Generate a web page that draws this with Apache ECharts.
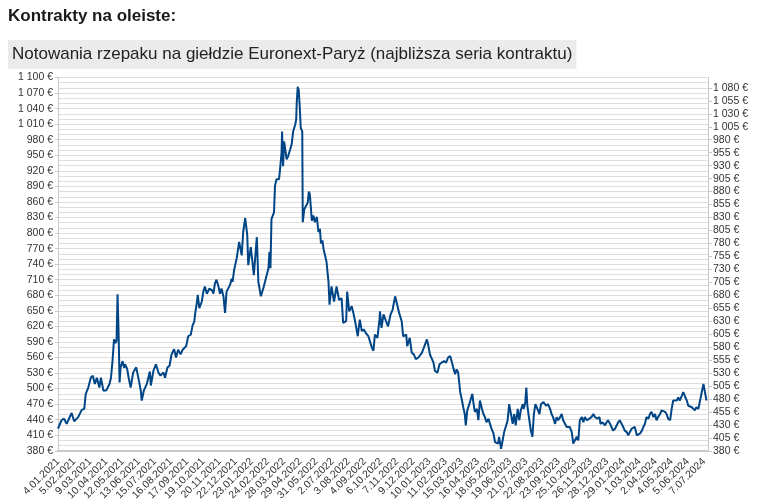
<!DOCTYPE html>
<html>
<head>
<meta charset="utf-8">
<script src="https://cdn.jsdelivr.net/npm/echarts@6/dist/echarts.min.js"></script>
<style>
html,body{margin:0;padding:0;background:#fff;}
#chart{width:759px;height:503px;}
</style>
</head>
<body>
<div id="chart"></div>
<script>
// ---- data ----
const heading = 'Kontrakty na oleiste:';
const chartTitle = 'Notowania rzepaku na giełdzie Euronext-Paryż (najbliższa seria kontraktu)';
const startDate = '2021-01-04';
const endDate = '2024-07-15';
// days elapsed since 4.01.2021 for each observation
const days = [0,7,12,17,20,27,32,40,47,52,55,60,65,69,73,77,82,85,90,96,102,105,108,111,114,116,118,120,122,124,128,131,133,137,140,144,149,155,157,161,164,166,170,176,179,182,184,189,194,199,203,209,212,217,221,225,230,234,238,243,247,250,254,258,263,267,270,272,275,277,280,285,288,291,295,300,305,308,311,314,318,321,324,328,331,334,341,344,346,349,354,359,364,367,371,375,377,382,386,388,394,397,402,407,412,417,419,421,423,428,430,433,438,440,443,444,446,448,450,453,456,460,463,466,470,472,473,475,477,479,481,484,485,488,491,495,497,499,503,506,509,513,516,519,521,524,526,532,536,538,542,547,552,557,562,565,571,573,577,582,586,590,594,598,602,606,610,615,618,622,625,628,633,637,638,641,645,650,654,659,663,668,672,676,681,684,690,692,697,701,705,709,714,717,721,725,731,734,737,740,744,747,752,756,760,765,769,773,777,780,783,787,790,793,797,800,803,806,808,811,815,818,821,823,826,830,833,836,840,843,846,849,853,856,859,863,866,869,872,874,878,881,884,888,891,894,897,901,904,907,911,914,917,921,923,926,928,930,934,937,940,943,946,950,954,957,962,967,971,975,978,981,985,988,991,995,998,1001,1004,1008,1011,1014,1018,1021,1024,1028,1031,1034,1038,1041,1044,1048,1053,1057,1061,1064,1069,1073,1075,1079,1084,1087,1090,1094,1097,1100,1104,1107,1110,1113,1117,1120,1123,1127,1130,1133,1137,1140,1143,1147,1150,1153,1157,1160,1163,1166,1170,1173,1176,1180,1183,1186,1189,1193,1196,1199,1203,1206,1209,1213,1216,1219,1222,1226,1229,1232,1236,1239,1242,1246,1249,1252,1256,1259,1262,1265,1269,1272,1275,1279,1282,1285];
// price in EUR per tonne
const prices = [423,439,442,432,434,453,437,445,459,461,490,502,521,525,509,521,502,521,496,497,509,521,553,595,588,592,682,611,512,541,553,540,547,538,521,502,531,541,542,512,496,477,496,509,521,533,506,534,547,531,525,531,521,541,544,566,576,560,575,566,575,572,582,601,604,623,629,646,665,681,655,668,687,697,683,693,690,683,703,710,697,683,693,677,646,687,700,712,706,729,751,783,757,802,829,796,738,773,738,719,792,706,678,694,713,732,764,732,827,840,891,904,904,923,955,996,929,977,964,942,948,961,971,996,1009,1019,1050,1082,1076,1044,1003,996,821,846,846,859,880,875,824,834,821,831,802,808,780,786,770,745,706,662,697,668,697,671,674,627,630,687,649,659,643,623,601,633,611,614,607,601,598,579,573,604,598,633,649,617,643,630,620,643,652,678,662,646,630,601,604,582,598,569,566,557,560,557,569,579,595,582,566,563,550,534,531,547,550,553,550,560,563,553,541,528,537,531,493,480,464,451,429,458,470,480,490,474,455,461,439,477,461,451,445,435,442,432,423,413,397,400,394,407,384,400,416,429,439,470,468,432,451,429,461,439,458,470,461,474,502,467,439,419,407,451,470,461,451,470,474,467,470,461,451,445,432,445,439,445,451,439,442,426,423,426,416,394,391,407,400,439,445,435,445,439,442,445,451,445,442,445,432,435,429,435,439,432,429,419,423,426,435,439,432,426,419,416,410,416,423,423,426,410,407,413,419,426,432,445,442,451,455,445,451,439,445,451,458,461,455,451,442,439,461,477,480,477,483,477,486,493,486,477,467,470,464,467,458,464,461,464,490,509,493,477];
// axis tick labels
const xTickLabels = ['4.01.2021','5.02.2021','9.03.2021','10.04.2021','12.05.2021','13.06.2021','15.07.2021','16.08.2021','17.09.2021','19.10.2021','20.11.2021','22.12.2021','23.01.2022','24.02.2022','28.03.2022','29.04.2022','31.05.2022','2.07.2022','3.08.2022','4.09.2022','6.10.2022','7.11.2022','9.12.2022','10.01.2023','11.02.2023','15.03.2023','16.04.2023','18.05.2023','19.06.2023','21.07.2023','22.08.2023','23.09.2023','25.10.2023','26.11.2023','28.12.2023','29.01.2024','1.03.2024','2.04.2024','4.05.2024','5.06.2024','7.07.2024'];
const leftTickValues = [380,410,440,470,500,530,560,590,620,650,680,710,740,770,800,830,860,890,920,950,980,1010,1040,1070,1100];
const rightTickValues = [380,405,430,455,480,505,530,555,580,605,630,655,680,705,730,755,780,805,830,855,880,905,930,955,980,1005,1030,1055,1080];
const yMin = 380, yMax = 1100;

// ---- helpers ----
const DAY = 86400000;
function parseUTC(s){ const p = s.split('-'); return Date.UTC(+p[0], +p[1]-1, +p[2]); }
function parsePl(s){ const p = s.split('.'); return Date.UTC(+p[2], +p[1]-1, +p[0]); }
const t0 = parseUTC(startDate);
const dayOf = t => Math.round((t - t0) / DAY);
const seriesData = days.map((d,i)=>[d, prices[i]]);
const xTickDays = xTickLabels.map(s => dayOf(parsePl(s)));
function fmtDay(v){
  const idx = xTickDays.indexOf(Math.round(v));
  return idx >= 0 ? xTickLabels[idx] : '';
}
function fmtEur(v){
  v = Math.round(v);
  let s = v >= 1000 ? Math.floor(v/1000) + ' ' + String(v%1000).padStart(3,'0') : String(v);
  return s + ' €';
}

const FONT = 'Liberation Sans, Arial, sans-serif';
const chart = echarts.init(document.getElementById('chart'), null, {renderer:'canvas'});
chart.setOption({
  animation:false,
  backgroundColor:'#ffffff',
  title:[
    {text: heading, left: 8, top: 8, padding:0,
     textStyle:{fontFamily:FONT, fontSize:17, fontWeight:'bold', color:'#1a1a1a'}},
    {text: chartTitle, left: 8, top: 40, padding:[5,4,5,4], backgroundColor:'#ebebeb',
     textStyle:{fontFamily:FONT, fontSize:17, fontWeight:'normal', color:'#222', lineHeight:19}}
  ],
  grid:{left:58, right:51, top:77.5, bottom:49, containLabel:false},
  xAxis:{
    type:'value',
    min: 0,
    max: dayOf(parseUTC(endDate)),
    axisLine:{show:true, lineStyle:{color:'#c8c8c8', width:2, type:[3,1]}},
    axisTick:{show:false},
    splitLine:{show:false},
    axisLabel:{
      customValues: xTickDays,
      formatter: v => fmtDay(v),
      rotate:45, margin:9,
      fontFamily:FONT, fontSize:10.5, color:'#333',
      hideOverlap:false
    }
  },
  yAxis:[
    {type:'value', position:'left', min:yMin, max:yMax,
     axisLine:{show:true, lineStyle:{color:'#c8c8c8'}},
     axisTick:{show:true, customValues:leftTickValues, length:3, lineStyle:{color:'#c8c8c8'}},
     splitLine:{show:false},
     axisLabel:{customValues:leftTickValues, formatter:fmtEur, margin:5,
       fontFamily:FONT, fontSize:10.5, color:'#333'}},
    {type:'value', position:'right', min:yMin, max:yMax,
     axisLine:{show:true, lineStyle:{color:'#c8c8c8'}},
     axisTick:{show:true, customValues:rightTickValues, length:4, lineStyle:{color:'#c8c8c8'}},
     splitLine:{show:false},
     axisLabel:{customValues:rightTickValues, formatter:fmtEur, margin:5,
       fontFamily:FONT, fontSize:10.5, color:'#333'}},
    {type:'value', position:'left', min:yMin, max:yMax, interval:10,
     axisLine:{show:false}, axisTick:{show:false}, axisLabel:{show:false},
     splitLine:{show:true, lineStyle:{color:'#dedede', width:1}}}
  ],
  series:[{
    type:'line', yAxisIndex:0, data: seriesData,
    showSymbol:false, symbol:'none',
    lineStyle:{color:'#004586', width:2},
    itemStyle:{color:'#004586'}
  }]
});
</script>
</body>
</html>
